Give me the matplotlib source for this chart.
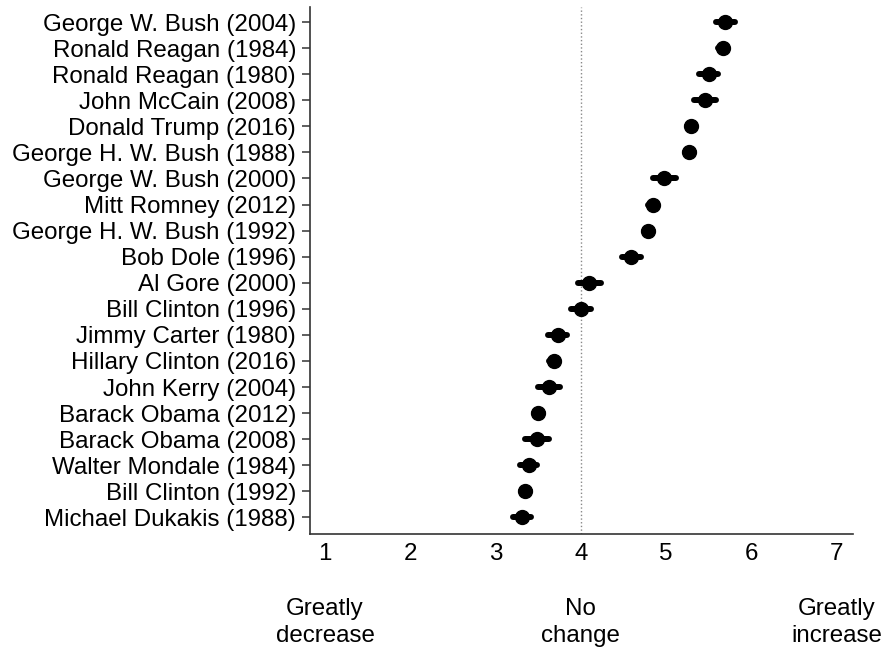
import matplotlib
matplotlib.use("Agg")
import matplotlib.pyplot as plt

plt.rcParams["font.family"] = ["Liberation Sans", "DejaVu Sans"]

# Candidates, top to bottom, with mean rating and 95% CI
candidates = [
    "George W. Bush (2004)",
    "Ronald Reagan (1984)",
    "Ronald Reagan (1980)",
    "John McCain (2008)",
    "Donald Trump (2016)",
    "George H. W. Bush (1988)",
    "George W. Bush (2000)",
    "Mitt Romney (2012)",
    "George H. W. Bush (1992)",
    "Bob Dole (1996)",
    "Al Gore (2000)",
    "Bill Clinton (1996)",
    "Jimmy Carter (1980)",
    "Hillary Clinton (2016)",
    "John Kerry (2004)",
    "Barack Obama (2012)",
    "Barack Obama (2008)",
    "Walter Mondale (1984)",
    "Bill Clinton (1992)",
    "Michael Dukakis (1988)",
]
means = [5.69, 5.66, 5.50, 5.45, 5.29, 5.27, 4.97, 4.84, 4.79, 4.59,
         4.09, 4.00, 3.73, 3.68, 3.63, 3.50, 3.48, 3.39, 3.35, 3.31]
lower = [5.58, 5.61, 5.39, 5.33, 5.24, 5.22, 4.84, 4.79, 4.74, 4.48,
         3.96, 3.88, 3.61, 3.63, 3.50, 3.45, 3.34, 3.29, 3.30, 3.20]
upper = [5.81, 5.71, 5.61, 5.58, 5.34, 5.32, 5.11, 4.89, 4.84, 4.70,
         4.23, 4.12, 3.84, 3.73, 3.76, 3.55, 3.63, 3.49, 3.40, 3.42]

scale_ticks = [1, 2, 3, 4, 5, 6, 7]
anchor_pos = [1, 4, 7]
anchor_text = ["Greatly\ndecrease", "No\nchange", "Greatly\nincrease"]

n = len(candidates)
ypos = [n - i for i in range(n)]

fig = plt.figure(figsize=(8.87, 6.5), dpi=100)
ax = fig.add_axes([0.3495, 0.178, 0.6122, 0.811])

ax.axvline(4, color="#888888", ls=":", lw=1.0, zorder=1)

# confidence intervals
lc = ax.hlines(ypos, lower, upper, color="black", lw=4.3, zorder=2)
lc.set_capstyle("round")
ax.plot(means, ypos, "o", color="black", ms=10, zorder=3)

ax.set_xlim(0.824, 7.19)
ax.set_ylim(0.35, 20.57)
ax.set_yticks(ypos)
ax.set_yticklabels(candidates, fontsize=17.4)
ax.set_xticks(scale_ticks)
ax.set_xticklabels([str(t) for t in scale_ticks], fontsize=17.4)
ax.tick_params(axis="x", length=0, pad=6)
ax.tick_params(axis="y", length=6, width=1.1, pad=4, color="#333333")

for side in ["top", "right"]:
    ax.spines[side].set_visible(False)
for side in ["left", "bottom"]:
    ax.spines[side].set_linewidth(1.2)
    ax.spines[side].set_color("#333333")

for xp, txt in zip(anchor_pos, anchor_text):
    ax.text(xp, -0.168, txt, transform=ax.get_xaxis_transform(),
            ha="center", va="center", fontsize=17.4, linespacing=1.28)

fig.savefig("out.png", dpi=100)
